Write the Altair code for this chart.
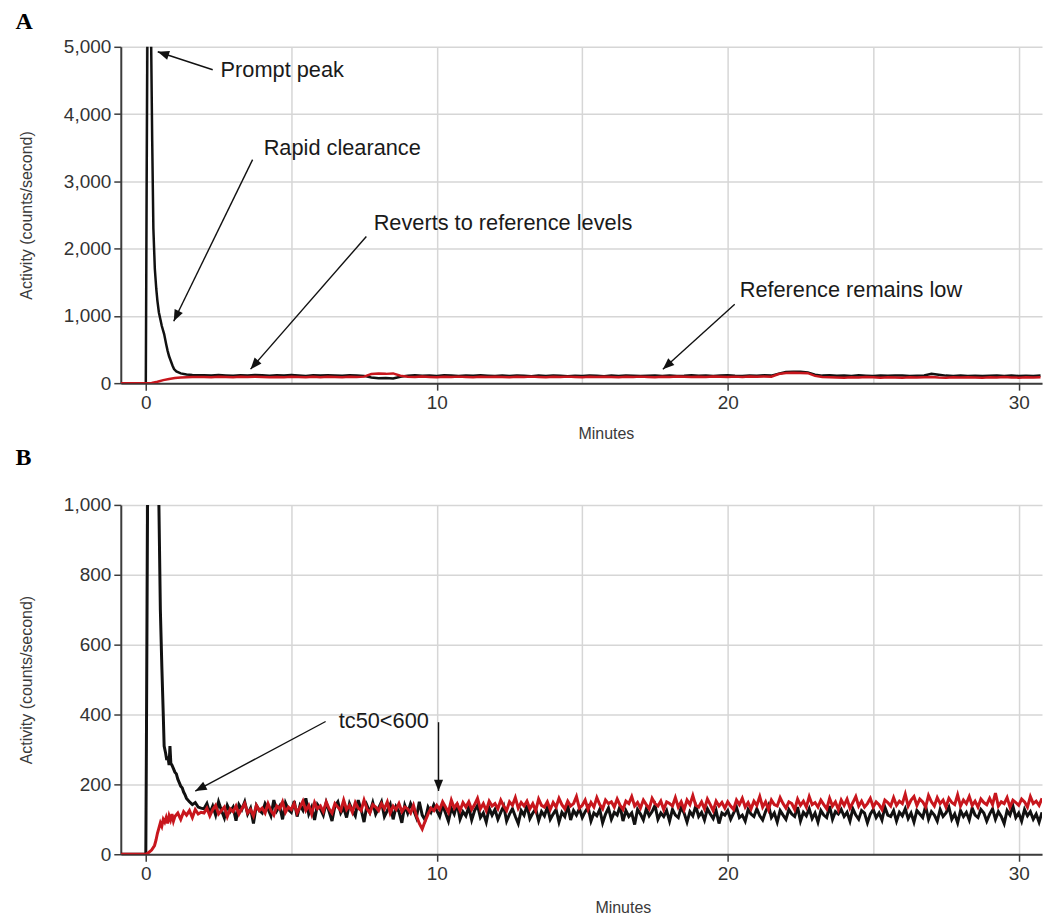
import math
import altair as alt
import pandas as pd

# ---------------------------------------------------------------- panel A data
# early (peak) part, explicit time stamps (minutes) and activity (counts/s)
A_BLACK_EARLY_T = [-0.86, 0.0, 0.03, 0.06, 0.12, 0.18, 0.22, 0.26, 0.31, 0.36,
                   0.4, 0.45, 0.5, 0.55, 0.63, 0.7, 0.75, 0.8, 0.86, 0.92,
                   0.97, 1.05, 1.2, 1.4, 1.6, 1.8]
A_BLACK_EARLY_V = [0, 0, 3000, 5600, 6200, 5200, 3600, 2300, 1700, 1400,
                   1220, 1050, 950, 850, 730, 580, 480, 400, 330, 260,
                   210, 175, 145, 130, 122, 118]
A_RED_EARLY_T = [-0.86, 0.0, 0.2, 0.4, 0.6, 0.8, 1.0, 1.2, 1.4, 1.6, 1.8]
A_RED_EARLY_V = [0, 0, 2, 20, 45, 62, 75, 84, 88, 90, 91]

# steady part, sampled every 0.25 min from t = 2.0
A_STEADY_T0 = 2.0
A_STEADY_STEP = 0.25
A_BLACK_STEADY = [
    118, 112, 120, 115,  110, 118, 114, 121,  116, 110, 119, 113,
    120, 114, 108, 117,  112, 119, 115, 110,  118, 113, 108, 85,
    72, 78, 70, 95,      112, 118, 110, 115,  108, 116, 112, 105,
    114, 109, 117, 111,  106, 113, 108, 115,  110, 104, 112, 108,
    115, 109, 103, 111,  107, 113, 110, 104,  112, 106, 114, 109,
    105, 111, 115, 108,  113, 107, 110, 116,  109, 114, 105, 112,
    116, 110, 108, 114,  111, 117, 112, 140,  165, 170, 168, 160,
    125, 112, 118, 110,  114, 108, 116, 111,  107, 113, 109, 115,
    112, 106, 110, 114,  140, 125, 112, 108,  113, 107, 111, 105,
    110, 115, 108, 112,  106, 111, 108, 113]
A_RED_STEADY = [
    92, 88, 95, 90,      87, 94, 90, 96,      91, 86, 93, 89,
    95, 90, 87, 94,      89, 96, 92, 88,      94, 90, 97, 135,
    142, 138, 145, 110,  95, 90, 98, 93,      88, 95, 91, 97,
    92, 87, 95, 90,      96, 91, 88, 94,      90, 97, 93, 88,
    95, 90, 97, 92,      88, 94, 91, 96,      93, 89, 96, 91,
    97, 92, 88, 95,      91, 98, 94, 90,      96, 92, 99, 94,
    90, 97, 93, 98,      94, 100, 96, 135,    150, 155, 152, 148,
    108, 92, 88, 85,     82, 88, 84, 90,      86, 81, 88, 84,
    80, 86, 83, 89,      92, 84, 80, 86,      83, 89, 85, 81,
    87, 83, 90, 85,      82, 88, 84, 86]

# ---------------------------------------------------------------- panel B data
B_BLACK_EARLY_T = [-0.85, 0.0, 0.02, 0.06, 0.1, 0.2, 0.3, 0.4, 0.45, 0.5,
                   0.55, 0.6, 0.63, 0.68, 0.72, 0.76, 0.8, 0.83, 0.86, 0.9,
                   0.95, 1.0, 1.05, 1.1, 1.15, 1.2, 1.25, 1.3, 1.35, 1.4,
                   1.5, 1.6, 1.7, 1.8, 1.9]
B_BLACK_EARLY_V = [0, 0, 300, 1000, 2500, 5000, 3000, 1500, 1000, 700,
                   540, 400, 310, 290, 270, 280, 255, 310, 260, 255,
                   245, 235, 230, 215, 205, 195, 190, 178, 170, 160,
                   150, 142, 148, 135, 132]
B_RED_EARLY_T = [-0.85, 0.0, 0.1, 0.2, 0.3, 0.35, 0.4, 0.45, 0.5, 0.55,
                 0.6, 0.65, 0.7, 0.75, 0.8, 0.85, 0.9, 0.95, 1.0, 1.1,
                 1.2, 1.3, 1.4, 1.5, 1.6, 1.7, 1.8, 1.9]
B_RED_EARLY_V = [0, 0, 5, 12, 25, 40, 60, 75, 90, 80,
                 100, 92, 105, 88, 110, 98, 115, 95, 108, 118,
                 100, 122, 112, 125, 105, 128, 115, 120]

# steady part, sampled every 0.1 min from t = 2.0 (one row per minute)
B_STEADY_T0 = 2.0
B_STEADY_STEP = 0.1
B_BLACK_STEADY = [
    130, 145, 118, 138, 112, 150, 125, 104, 140, 122,
    135, 96, 142, 128, 150, 115, 132, 88, 140, 126,
    118, 145, 130, 110, 155, 124, 138, 100, 147, 128,
    120, 152, 108, 140, 126, 160, 115, 135, 98, 142,
    130, 112, 148, 122, 95, 138, 150, 118, 133, 105,
    145, 125, 110, 155, 128, 92, 140, 120, 148, 115,
    132, 150, 108, 125, 143, 100, 136, 122, 90, 140,
    118, 145, 127, 105, 150, 112, 98, 135, 120, 142,
    125, 108, 140, 118, 95, 132, 115, 145, 100, 122,
    110, 135, 98, 125, 140, 105, 118, 92, 132, 112,
    128, 100, 120, 138, 95, 115, 130, 108, 88, 125,
    112, 140, 102, 118, 130, 96, 122, 110, 135, 100,
    115, 128, 92, 120, 108, 140, 98, 125, 112, 130,
    105, 122, 135, 95, 118, 110, 128, 90, 115, 132,
    100, 120, 112, 138, 95, 125, 108, 118, 85, 128,
    115, 98, 130, 110, 122, 140, 100, 118, 108, 125,
    95, 128, 112, 105, 135, 118, 92, 122, 110, 138,
    108, 120, 98, 130, 115, 102, 125, 88, 118, 112,
    125, 100, 118, 135, 105, 112, 95, 128, 115, 108,
    130, 110, 98, 122, 140, 105, 118, 92, 125, 112,
    100, 128, 115, 108, 135, 95, 120, 110, 130, 102,
    118, 92, 125, 112, 105, 138, 100, 122, 115, 128,
    108, 120, 95, 130, 112, 100, 125, 118, 90, 115,
    128, 105, 118, 98, 135, 112, 108, 125, 95, 120,
    110, 130, 102, 118, 92, 125, 115, 105, 138, 100,
    122, 112, 95, 128, 108, 118, 135, 100, 115, 90,
    125, 108, 120, 98, 132, 112, 105, 128, 118, 95,
    115, 130, 100, 122, 108, 88, 125, 112, 138, 105,
    118, 95, 128, 110, 122, 100, 115, 92, 120]
B_RED_STEADY = [
    118, 132, 110, 128, 140, 115, 125, 135, 108, 130,
    122, 138, 115, 130, 145, 118, 128, 110, 140, 125,
    132, 118, 145, 125, 112, 138, 130, 150, 120, 135,
    128, 145, 118, 135, 152, 125, 140, 115, 148, 130,
    138, 122, 150, 130, 118, 145, 135, 125, 155, 128,
    140, 120, 148, 132, 125, 155, 130, 118, 142, 135,
    125, 145, 130, 150, 118, 138, 128, 145, 122, 135,
    130, 118, 140, 110, 88, 72, 95, 115, 132, 125,
    140, 128, 150, 135, 120, 155, 132, 145, 125, 148,
    135, 150, 128, 142, 160, 130, 145, 125, 152, 138,
    145, 130, 155, 138, 125, 150, 140, 162, 132, 148,
    138, 152, 130, 145, 125, 158, 140, 135, 150, 128,
    148, 135, 160, 142, 130, 152, 138, 145, 165, 132,
    140, 155, 128, 148, 135, 162, 142, 130, 155, 145,
    150, 135, 158, 140, 128, 152, 145, 165, 138, 148,
    132, 155, 142, 130, 160, 145, 138, 152, 128, 150,
    145, 138, 162, 135, 150, 128, 155, 142, 168, 140,
    135, 150, 130, 158, 142, 125, 152, 138, 148, 132,
    150, 138, 128, 155, 142, 160, 135, 148, 130, 152,
    140, 165, 135, 150, 128, 155, 142, 138, 162, 145,
    132, 150, 145, 128, 158, 140, 152, 135, 165, 142,
    148, 135, 155, 142, 130, 160, 138, 150, 128, 155,
    140, 158, 132, 148, 165, 138, 152, 135, 145, 160,
    135, 150, 142, 128, 155, 148, 138, 162, 140, 152,
    145, 172, 138, 155, 165, 140, 158, 150, 135, 168,
    150, 138, 162, 145, 155, 135, 160, 148, 142, 170,
    138, 155, 145, 165, 140, 152, 135, 158, 148, 142,
    160, 142, 175, 138, 150, 145, 162, 135, 155, 148,
    140, 158, 150, 135, 165, 145, 152, 140, 160]

# ---------------------------------------------------------------- annotations
A_TEXT = ["Prompt peak", "Rapid clearance", "Reverts to reference levels",
          "Reference remains low"]
A_TEXT_X = [2.57, 4.05, 7.83, 20.41]
A_TEXT_Y = [4659, 3491, 2378, 1390]
A_ARROW_X0 = [2.30, 3.67, 7.58, 20.24]
A_ARROW_Y0 = [4659, 3323, 2181, 1172]
A_ARROW_X1 = [0.41, 0.96, 3.60, 17.77]
A_ARROW_Y1 = [4926, 920, 208, 208]

B_TEXT = ["tc50<600"]
B_TEXT_X = [6.63]
B_TEXT_Y = [381]
B_ARROW_X0 = [6.18, 10.06]
B_ARROW_Y0 = [380, 378]
B_ARROW_X1 = [1.70, 10.06]
B_ARROW_Y1 = [181, 181]

# ---------------------------------------------------------------- styling
X_DOMAIN = [-0.86, 30.8]
X_GRID = [0, 5, 10, 15, 20, 25, 30]
A_Y_TICKS = [0, 1000, 2000, 3000, 4000, 5000]
B_Y_TICKS = [0, 200, 400, 600, 800, 1000]
PLOT_W = 923
A_H = 337
B_H = 350
BLACK = "#111111"
RED = "#c8161d"
SANS = "Liberation Sans"
ARROW_HEAD = "M0,0 L0.4,1 L-0.4,1 Z"


def series(early_t, early_v, t0, step, steady):
    t = list(early_t) + [round(t0 + step * i, 3) for i in range(len(steady))]
    v = list(early_v) + list(steady)
    return pd.DataFrame({"t": t, "v": v})


def arrows(x0, y0, x1, y1, ymax, h):
    sx = PLOT_W / (X_DOMAIN[1] - X_DOMAIN[0])
    sy = h / ymax
    ang = []
    for a, b, c, d in zip(x0, y0, x1, y1):
        dx = (c - a) * sx
        dy = -(d - b) * sy
        ang.append(math.degrees(math.atan2(dx, -dy)) % 360)
    return pd.DataFrame({"x0": x0, "y0": y0, "x1": x1, "y1": y1, "ang": ang})


def panel(letter, black, red, yticks, ymax, h, texts, tx, ty, arr, title_x,
          title_offset, line_w, x_title_pad):
    x_enc = alt.X(
        "t:Q",
        scale=alt.Scale(domain=X_DOMAIN, nice=False, zero=False),
        axis=alt.Axis(
            values=X_GRID,
            labelExpr="datum.value % 10 === 0 ? datum.label : ''",
            tickOpacity={"condition": {"test": "datum.value % 10 === 0", "value": 1}, "value": 0},
            title="Minutes",
            titleX=title_x,
            titlePadding=x_title_pad,
            grid=True,
        ),
    )
    y_scale = alt.Scale(domain=[0, ymax], nice=False, zero=True)
    y_enc = alt.Y(
        "v:Q",
        scale=y_scale,
        axis=alt.Axis(values=yticks, format=",.0f", title="Activity (counts/second)", grid=True),
    )
    base_black = alt.Chart(black).mark_line(color=BLACK, strokeWidth=line_w, clip=True).encode(x=x_enc, y=y_enc)
    base_red = alt.Chart(red).mark_line(color=RED, strokeWidth=line_w, clip=True).encode(x="t:Q", y="v:Q")

    tdf = pd.DataFrame({"x": tx, "y": ty, "label": texts})
    txt = alt.Chart(tdf).mark_text(align="left", baseline="middle", font=SANS, fontSize=21.8,
                                   color="#1a1a1a").encode(x="x:Q", y="y:Q", text="label:N")
    lines = alt.Chart(arr).mark_rule(color="#111111", strokeWidth=1.4).encode(
        x="x0:Q", y="y0:Q", x2="x1:Q", y2="y1:Q")
    heads = alt.Chart(arr).mark_point(shape=ARROW_HEAD, filled=True, size=520, color="#111111",
                                      opacity=1, strokeWidth=0).encode(
        x="x1:Q", y="y1:Q", angle=alt.Angle("ang:Q", scale=None))

    return alt.layer(base_black, base_red, lines, heads, txt).properties(
        width=PLOT_W,
        height=h,
        title=alt.TitleParams(letter, anchor="start", frame="bounds", font="Liberation Serif",
                              fontSize=24, fontWeight="bold", color="#000000",
                              offset=title_offset, dx=-3),
    )


a_black = series(A_BLACK_EARLY_T, A_BLACK_EARLY_V, A_STEADY_T0, A_STEADY_STEP, A_BLACK_STEADY)
a_red = series(A_RED_EARLY_T, A_RED_EARLY_V, A_STEADY_T0, A_STEADY_STEP, A_RED_STEADY)
b_black = series(B_BLACK_EARLY_T, B_BLACK_EARLY_V, B_STEADY_T0, B_STEADY_STEP, B_BLACK_STEADY)
b_red = series(B_RED_EARLY_T, B_RED_EARLY_V, B_STEADY_T0, B_STEADY_STEP, B_RED_STEADY)

chart_a = panel("A", a_black, a_red, A_Y_TICKS, 5000, A_H, A_TEXT, A_TEXT_X, A_TEXT_Y,
                arrows(A_ARROW_X0, A_ARROW_Y0, A_ARROW_X1, A_ARROW_Y1, 5000, A_H), 486, 4, 2.5, 13)
chart_b = panel("B", b_black, b_red, B_Y_TICKS, 1000, B_H, B_TEXT, B_TEXT_X, B_TEXT_Y,
                arrows(B_ARROW_X0, B_ARROW_Y0, B_ARROW_X1, B_ARROW_Y1, 1000, B_H), 503, 26, 3, 16)

chart = alt.vconcat(chart_a, chart_b, spacing=3).properties(
    padding={"left": 6, "top": 0, "right": 0, "bottom": 0},
    background="white",
).configure_view(stroke="transparent").configure_axis(
    labelFont=SANS,
    labelFontSize=19,
    labelColor="#333333",
    titleFont=SANS,
    titleFontSize=16,
    titleFontWeight="normal",
    titleColor="#3a3a3a",
    domainColor="#3c3c3c",
    domainWidth=2,
    tickColor="#3c3c3c",
    tickWidth=1.5,
    tickSize=7,
    gridColor="#d6d6d6",
    gridWidth=1.5,
).configure_axisX(
    labelPadding=3,
).configure_axisY(
    labelPadding=3,
    titlePadding=29,
)

chart.save("out.html", embed_options={"renderer": "svg", "actions": False})
